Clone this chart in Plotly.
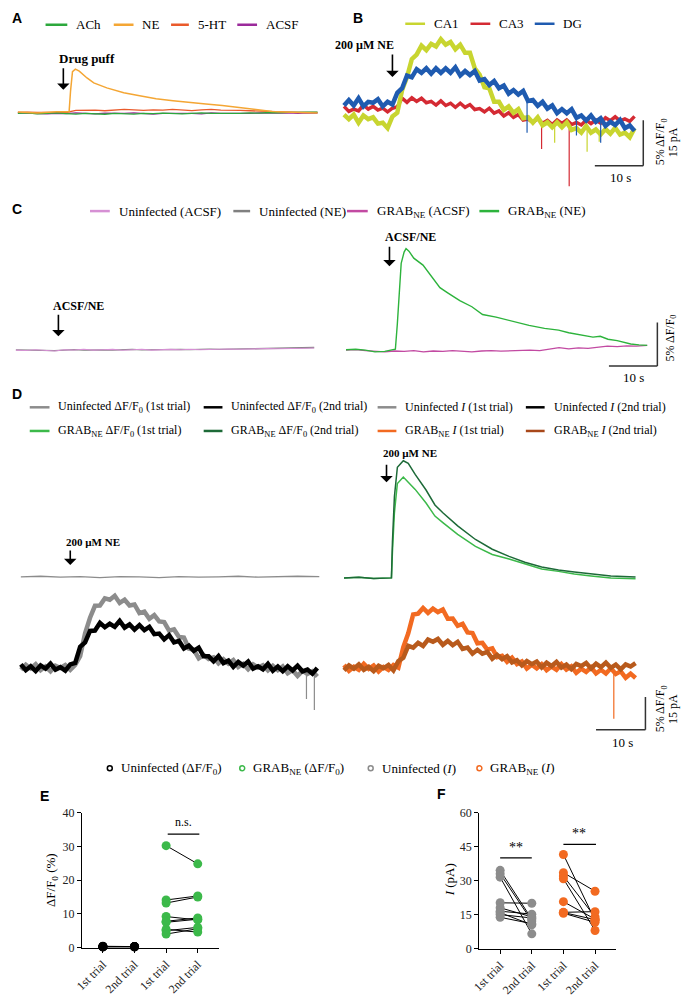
import plotly.graph_objects as go

W, H = 682, 998
SERIF = "Liberation Serif"
SANS = "Liberation Sans"

# ---------------- Panel A (time s, dF/F0 %) ----------------
tA = [0, 2, 4, 6, 8, 10, 12, 14, 16, 18, 20, 22, 24, 26, 28, 30, 32, 34, 36, 38, 40, 42, 44, 46, 48, 50, 52, 54, 56, 58, 60, 62]
A_ACh = [-0.1, -0.05, -0.15, -0.1, -0.05, -0.12, -0.18, -0.1, -0.15, -0.2, -0.1, -0.12, -0.18, -0.1, -0.14, -0.08,
         -0.12, -0.15, -0.1, -0.05, -0.1, -0.12, -0.06, -0.1, -0.05, -0.08, 0.0, -0.05, 0.02, 0.0, 0.05, 0.05]
A_5HT = [0.0, 0.05, 0.0, 0.02, 0.05, 0.0, 0.25, 0.3, 0.28, 0.2, 0.3, 0.35, 0.3, 0.25, 0.3, 0.28,
         0.35, 0.3, 0.22, 0.3, 0.35, 0.28, 0.3, 0.25, 0.2, 0.15, 0.1, 0.05, 0.05, 0.0, 0.02, 0.0]
A_ACSF = [-0.05, -0.1, -0.08, -0.15, -0.1, -0.12, -0.05, -0.1, -0.15, -0.08, -0.12, -0.1, -0.05, -0.12, -0.18, -0.1,
          -0.08, -0.12, -0.1, -0.15, -0.05, -0.1, -0.12, -0.08, -0.1, -0.05, -0.1, -0.08, -0.05, -0.1, -0.05, -0.08]
tA_NE = [0, 4, 8, 10.6, 10.9, 11.3, 11.9, 12.7, 14.3, 15.7, 18.4, 21.9, 25.2, 28.6, 32.1, 35.4, 38.9, 42.3, 46.0,
         49.7, 52.6, 55.0, 57.3, 60, 62]
A_NE = [0.05, -0.05, 0.1, 0.1, 2.5, 4.7, 5.0, 4.77, 3.98, 3.41, 2.84, 2.27, 1.93, 1.59, 1.36, 1.14, 0.97, 0.80, 0.57,
        0.34, 0.11, 0.05, 0.0, 0.02, -0.05]

# ---------------- Panel B (1 s samples, %) ----------------
tB = [0, 1, 2, 3, 4, 5, 6, 7, 8, 9, 10, 11, 12, 13, 14, 15, 16, 17, 18, 19, 20, 21, 22, 23, 24, 25, 26, 27, 28, 29,
      30, 31, 32, 33, 34, 35, 36, 37, 38, 39, 40, 41, 42, 43, 44, 45, 46, 47, 48, 49, 50, 51, 52, 53, 54, 55, 56, 57,
      58, 59, 60]
B_CA1 = [0.1, -0.4, 0.1, -0.8, 0.0, -0.4, -0.2, -0.9, -0.8, -1.4, -0.1, 0.3, 2.8, 4.2, 6.2, 6.7, 7.7, 7.2, 7.9, 7.6,
         8.4, 7.8, 8.1, 7.3, 7.8, 6.9, 6.9, 5.2, 4.5, 3.1, 3.0, 1.5, 1.5, 0.6, 1.0, 0.3, 0.7, -0.3, -0.2, -0.8,
         -0.2, -1.1, -0.75, -1.3, -0.75, -1.3, -0.75, -1.6, -1.4, -1.9, -1.15, -1.9, -1.55, -2.1, -1.5, -2.0, -1.35,
         -2.1, -1.9, -2.4, -1.4]
B_DG = [1.1, 1.7, 1.1, 1.9, 1.0, 1.5, 1.4, 1.8, 1.0, 1.5, 1.2, 2.5, 3.0, 4.4, 4.2, 5.1, 4.7, 5.2, 4.6, 5.2,
        4.7, 5.2, 4.7, 5.3, 4.4, 4.9, 4.45, 4.9, 3.85, 4.0, 3.35, 3.8, 3.0, 3.3, 2.4, 2.8, 2.3, 2.7, 1.6, 1.7,
        1.05, 1.5, 0.75, 1.1, 0.25, 0.7, 0.25, 0.7, -0.25, 0.0, -0.55, 0.0, -0.7, -0.3, -1.15, -0.7, -1.05, -0.5,
        -1.4, -1.1, -1.7]
B_CA3 = [1.0, 0.45, 0.7, 0.5, 1.15, 0.7, 1.0, 0.6, 0.8, 0.4, 0.8, 0.95, 1.9, 1.45, 1.95, 1.55, 1.9, 1.4, 1.55, 1.15,
         1.6, 1.1, 1.35, 0.9, 1.35, 0.9, 1.2, 0.65, 0.75, 0.4, 0.8, 0.25, 0.5, -0.05, 0.3, -0.2, 0.1, -0.5, -0.4,
         -0.75, -0.35, -0.85, -0.55, -1.0, -0.5, -0.88, -0.5, -1.0, -0.78, -1.05, -0.5, -0.9, -0.5, -0.85, -0.25,
         -0.58, -0.15, -0.6, -0.38, -0.65, -0.1]
B_CA1_spk_t = [43.5, 50.2, 52.7]
B_CA1_spk_base = [-1.0, -1.6, -1.7]
B_CA1_spk_tip = [-3.0, -4.0, -2.9]
B_DG_spk_t = [37.8, 48.0, 53.0]
B_DG_spk_base = [2.0, 0.0, -0.6]
B_DG_spk_tip = [-1.9, -2.2, -3.0]
B_CA3_spk_t = [40.8, 46.5]
B_CA3_spk_base = [-0.6, -0.8]
B_CA3_spk_tip = [-3.7, -7.8]

# ---------------- Panel C ----------------
C_left_t = [0, 2, 4, 6, 8, 10, 12, 14, 16, 18, 20, 22, 24, 26, 28, 30, 32, 34, 36, 38, 40, 42, 44, 46, 48, 50, 52, 54,
            56, 58, 60, 61.6]
C_unACSF = [0.0, -0.05, 0.05, 0.0, -0.1, 0.05, 0.02, 0.1, 0.0, 0.05, 0.08, -0.02, 0.05, 0.1, 0.0, 0.05, 0.08, 0.05,
            0.1, 0.05, 0.1, 0.08, 0.12, 0.1, 0.15, 0.12, 0.18, 0.15, 0.2, 0.18, 0.22, 0.25]
C_unNE = [0.02, 0.0, -0.05, -0.02, -0.05, 0.0, 0.05, 0.0, 0.05, 0.02, 0.0, 0.05, 0.08, 0.02, 0.05, 0.1, 0.05, 0.08,
          0.05, 0.1, 0.12, 0.08, 0.1, 0.15, 0.12, 0.18, 0.15, 0.2, 0.18, 0.22, 0.25, 0.3]
C_grNE_t = [0, 2, 4, 6, 8, 9.8, 10.2, 10.6, 11.0, 11.4, 12, 12.4, 13, 14, 15.9, 17, 19.4, 21, 23.5, 26, 28.2, 31,
            33.7, 37.8, 41, 43.9, 46, 48.6, 51, 52.5, 54.1, 56, 58.8, 60.5, 62.2]
C_grNE = [0.05, 0.1, 0.0, -0.2, -0.15, 0.0, 0.1, 3.0, 6.5, 10.0, 11.3, 11.7, 11.4, 10.6, 9.8, 9.0, 7.2, 6.6, 5.7, 5.0,
          4.1, 3.8, 3.4, 2.85, 2.5, 2.3, 2.0, 1.7, 1.5, 1.6, 1.25, 1.1, 0.7, 0.6, 0.55]
C_grACSF_t = [0, 2, 4, 6, 8, 10, 12, 14, 16, 18, 20, 22, 24, 26, 28, 30, 32, 34, 36, 38, 40, 42, 44, 46, 48, 50, 52,
              54, 56, 58, 60, 62.2]
C_grACSF = [0.0, 0.05, -0.05, -0.15, -0.2, -0.1, -0.15, -0.05, -0.2, -0.1, -0.15, -0.05, -0.1, -0.2, -0.1, -0.05,
            -0.12, -0.08, -0.1, 0.0, -0.05, 0.1, 0.28, 0.15, 0.25, 0.2, 0.35, 0.45, 0.4, 0.5, 0.45, 0.55]

# ---------------- Panel D ----------------
D_unF_t = [0, 4, 8, 12, 16, 20, 24, 28, 32, 36, 40, 44, 48, 52, 56, 60.4]
D_unF1 = [0.0, 0.1, -0.05, 0.05, -0.1, 0.05, 0.0, -0.1, 0.05, -0.05, 0.0, 0.1, -0.05, 0.05, 0.1, 0.05]
D_grF_t = [0, 3, 6, 9, 9.6, 9.8, 10.2, 10.8, 12, 13, 14.4, 16.6, 18.4, 20, 23, 26.6, 30, 33.4, 36.6, 40, 43.4, 46.6,
           50, 54, 59]
D_grF1 = [0.0, 0.1, -0.1, 0.0, 0.0, 4.0, 10.0, 14.5, 15.5, 14.7, 13.6, 11.5, 9.5, 8.5, 6.7, 4.85, 3.6, 2.9, 2.1,
          1.36, 1.0, 0.6, 0.3, 0.0, -0.15]
D_grF2 = [0.0, 0.1, -0.1, 0.0, 0.0, 5.5, 12.5, 17.0, 18.0, 17.6, 15.9, 13.5, 11.2, 10.0, 8.0, 5.9, 4.4, 3.3, 2.4,
          1.67, 1.2, 0.9, 0.6, 0.3, 0.15]
tD = [0, 1, 2, 3, 4, 5, 6, 7, 8, 9, 10, 11, 12, 13, 14, 15, 16, 17, 18, 19, 20, 21, 22, 23, 24, 25, 26, 27, 28, 29,
      30, 31, 32, 33, 34, 35, 36, 37, 38, 39, 40, 41, 42, 43, 44, 45, 46, 47, 48, 49, 50, 51, 52, 53, 54, 55, 56, 57,
      58, 59, 60]
D_unI2 = [1.5, -1.2, 0.6, -1.6, 1.0, -0.5, 1.8, -1.0, 0.2, -1.4, 1.5, 2.2, 9.6, 11.6, 16.9, 17.1, 20.6, 18.6, 20.2,
          18.8, 21.5, 18.4, 19.9, 17.5, 19.6, 17.3, 18.8, 15.4, 15.7, 13.0, 15.0, 11.6, 12.3, 8.8, 10.1, 7.7, 9.2,
          5.2, 5.2, 2.9, 5.3, 2.1, 3.2, 0.3, 2.6, 0.9, 2.8, -0.5, 0.6, -0.8, 1.7, -1.4, 0.5, -1.6, 0.6, -1.3, 0.9,
          -1.7, -0.9, -2.8, -0.2]
D_unI1 = [-1.0, 1.3, -0.4, 1.6, -1.2, 0.5, -1.7, 0.9, -0.2, 1.2, -1.0, 1.3, 5.3, 15.8, 23.0, 28.5, 28.6, 31.9, 31.3,
          33.1, 29.8, 31.3, 28.6, 29.1, 25.1, 25.8, 22.5, 24.2, 21.3, 21.0, 17.0, 17.6, 14.1, 13.8, 8.8, 8.2, 4.3,
          5.8, 4.0, 4.7, 2.0, 3.9, 1.8, 3.4, 0.3, 1.7, -0.8, 1.5, 0.0, 1.1, -1.3, 0.8, -1.2, 0.5, -2.6, -1.2, -3.8,
          -1.5, -2.9, -1.7, -4.1]
D_unI1_spk_t = [57.8, 59.4]
D_unI1_spk_base = [-2.6, -3.0]
D_unI1_spk_tip = [-14.5, -19.5]
tD_gr = tD[:60]
D_grI1 = [1.2, -1.5, 0.4, -1.0, 1.7, -0.6, 1.0, -1.8, 0.3, -1.1, 1.2, 0.0, 9.4, 15.8, 24.5, 24.9, 27.5, 25.2, 27.2,
          25.6, 26.8, 22.5, 22.6, 19.3, 20.2, 16.2, 15.9, 11.2, 11.4, 8.3, 8.9, 4.8, 5.4, 2.7, 4.6, 1.6, 2.8, -0.4,
          1.3, -0.4, 1.6, -1.2, 0.5, -1.0, 1.6, -0.9, 0.6, -2.4, -0.5, -2.0, 0.1, -2.7, -1.0, -2.7, -0.3, -2.9,
          -1.7, -4.7, -2.8, -4.8]
D_grI1_spk_t = [54.6]
D_grI1_spk_base = [-1.5]
D_grI1_spk_tip = [-23.6]
D_grI2 = [-1.3, 1.0, -0.5, 1.5, -1.0, 0.4, -1.6, 0.8, -0.3, 1.2, -1.3, 3.0, 4.5, 10.0, 9.2, 11.4, 10.0, 12.9, 11.9,
          13.2, 10.5, 12.3, 10.3, 11.9, 8.6, 9.2, 6.4, 8.2, 6.4, 7.2, 4.1, 5.9, 3.9, 5.3, 2.4, 3.4, 1.0, 3.0, 1.6,
          2.8, 0.1, 2.3, 0.7, 2.6, 0.0, 1.4, -0.7, 1.7, 0.7, 2.2, -0.4, 1.8, 0.2, 2.3, -0.1, 1.4, -0.8, 1.5, 0.5,
          2.1]

# ---------------- Panels E / F ----------------
trial_labels = ["1st trial", "2nd trial", "1st trial", "2nd trial"]
E_un_1 = [0.4, 0.3, 0.3, 0.2, 0.3, 0.2]
E_un_2 = [0.3, 0.2, 0.3, 0.3, 0.2, 0.3]
E_gr_1 = [30.2, 14.1, 13.2, 9.2, 7.8, 7.5, 5.4, 5.0, 4.0]
E_gr_2 = [24.8, 15.3, 15.0, 8.2, 8.8, 8.4, 4.6, 6.0, 5.6]
F_un_1 = [34.5, 33.0, 31.5, 20.2, 18.0, 16.5, 15.8, 15.0, 13.8]
F_un_2 = [13.0, 12.2, 6.5, 20.0, 14.0, 15.2, 10.5, 13.5, 11.0]
F_gr_1 = [41.5, 33.5, 32.0, 30.8, 20.7, 16.0, 15.6, 15.9]
F_gr_2 = [12.5, 25.3, 14.0, 8.0, 13.0, 16.3, 11.6, 12.8]

# ---------------- colours ----------------
C_ACH, C_NE, C_5HT, C_ACSF = "#2ca83c", "#f4a634", "#ea5a2b", "#9b2a9b"
C_CA1, C_CA3, C_DG = "#c8d530", "#d42a33", "#1f5bb0"
C_PINK, C_GRAY, C_MAG, C_GREEN = "#d690d4", "#808080", "#c24aa2", "#2db33c"
C_LG, C_DKG, C_OR, C_BR = "#3cb94a", "#1d6a38", "#f26a21", "#b85a1c"
C_UNG = "#8c8c8c"

fig = go.Figure()
layout = {}
shapes = []
ann = []


def ax_name(n):
    return ("x", "y") if n == 1 else (f"x{n}", f"y{n}")


def add_axes(n, left, right, top, bottom, x0, pps, y0, ppu):
    xk = "xaxis" if n == 1 else f"xaxis{n}"
    yk = "yaxis" if n == 1 else f"yaxis{n}"
    xa, ya = ax_name(n)
    layout[xk] = dict(domain=[left / W, right / W], range=[(left - x0) / pps, (right - x0) / pps],
                      visible=False, anchor=ya, fixedrange=True)
    layout[yk] = dict(domain=[1 - bottom / H, 1 - top / H], range=[(y0 - bottom) / ppu, (y0 - top) / ppu],
                      visible=False, anchor=xa, fixedrange=True)


def line(n, t, v, color, width):
    xa, ya = ax_name(n)
    fig.add_trace(go.Scatter(x=t, y=v, mode="lines", line=dict(color=color, width=width),
                             xaxis=xa, yaxis=ya, showlegend=False, hoverinfo="skip"))


def spikes(n, t, base, tip, color, width=1.2):
    xs, ys = [], []
    for a, b, c in zip(t, base, tip):
        xs += [a, a, None]
        ys += [b, c, None]
    line(n, xs, ys, color, width)


def text(x, y, s, size=12, bold=False, family=SERIF, xanchor="center", yanchor="middle", angle=0):
    ann.append(dict(x=x / W, y=1 - y / H, xref="paper", yref="paper", text=f"<b>{s}</b>" if bold else s,
                    showarrow=False, font=dict(family=family, size=size, color="black"),
                    xanchor=xanchor, yanchor=yanchor, textangle=angle))


def arrow(x, ytail, ytip):
    ann.append(dict(x=x / W, y=1 - ytip / H, xref="paper", yref="paper", ax=0, ay=ytail - ytip, text="",
                    showarrow=True, arrowhead=1, arrowsize=1.3, arrowwidth=1.6, arrowcolor="black"))


def leg_line(x1, x2, y, color, label, size=13, gap=7, width=2.5):
    shapes.append(dict(type="line", xref="paper", yref="paper", x0=x1 / W, x1=x2 / W, y0=1 - y / H, y1=1 - y / H,
                       line=dict(color=color, width=width)))
    text(x2 + gap, y, label, size, xanchor="left")


def leg_circle(x, y, color, label, size=13):
    shapes.append(dict(type="circle", xref="paper", yref="paper", x0=(x - 2.5) / W, x1=(x + 2.5) / W,
                       y0=1 - (y + 2.5) / H, y1=1 - (y - 2.5) / H, line=dict(color=color, width=1.5)))
    text(x + 9, y, label, size, xanchor="left")


def scalebar(n, xl, xr, yb, yt):
    xa, ya = ax_name(n)
    shapes.append(dict(type="line", xref=xa, yref=ya, x0=xl, x1=xr, y0=yb, y1=yb, line=dict(color="#333", width=1.5)))
    shapes.append(dict(type="line", xref=xa, yref=ya, x0=xr, x1=xr, y0=yb, y1=yt, line=dict(color="#333", width=1.5)))


# ---- axes for traces ----
add_axes(1, 5, 320, 40, 120, 10, 4.89, 107, 8.8)       # A
add_axes(2, 335, 650, 25, 190, 340, 4.9, 110, 9.2)     # B
add_axes(3, 5, 330, 225, 370, 8, 4.9, 348, 8.8)        # C left
add_axes(4, 335, 665, 225, 370, 342, 4.9, 348, 8.8)    # C right
add_axes(5, 5, 330, 440, 600, 13, 5.0, 578, 6.6)       # D left dF/F0
add_axes(6, 5, 330, 580, 725, 13, 5.0, 670, 2.2)       # D left current
add_axes(7, 335, 660, 440, 600, 340, 5.0, 579, 6.6)    # D right dF/F0
add_axes(8, 335, 660, 580, 740, 340, 5.0, 670, 2.2)    # D right current

# ---- A ----
line(1, tA, A_5HT, C_5HT, 1.3)
line(1, tA, A_ACSF, C_ACSF, 1.3)
line(1, tA, A_ACh, C_ACH, 1.3)
line(1, tA_NE, A_NE, C_NE, 1.5)

# ---- B ----
line(2, tB, B_CA3, C_CA3, 3.5)
spikes(2, B_CA3_spk_t, B_CA3_spk_base, B_CA3_spk_tip, C_CA3)
line(2, tB, B_CA1, C_CA1, 4.5)
spikes(2, B_CA1_spk_t, B_CA1_spk_base, B_CA1_spk_tip, C_CA1)
line(2, tB, B_DG, C_DG, 4.5)
spikes(2, B_DG_spk_t, B_DG_spk_base, B_DG_spk_tip, C_DG)
scalebar(2, 51.8, 61.8, -5.54, -0.54)

# ---- C ----
line(3, C_left_t, C_unNE, C_GRAY, 1.3)
line(3, C_left_t, C_unACSF, C_PINK, 1.1)
line(4, C_grACSF_t, C_grACSF, C_MAG, 1.3)
line(4, C_grNE_t, C_grNE, C_GREEN, 1.4)
scalebar(4, 54.3, 64.3, -1.82, 3.18)

# ---- D ----
line(5, D_unF_t, D_unF1, C_UNG, 1.3)
line(6, tD, D_unI1, C_UNG, 4.5)
spikes(6, D_unI1_spk_t, D_unI1_spk_base, D_unI1_spk_tip, C_UNG)
line(6, tD, D_unI2, "#000000", 4.5)
line(7, D_grF_t, D_grF1, C_LG, 1.5)
line(7, D_grF_t, D_grF2, C_DKG, 1.5)
line(8, tD_gr, D_grI1, C_OR, 4.5)
spikes(8, D_grI1_spk_t, D_grI1_spk_base, D_grI1_spk_tip, C_OR)
line(8, tD_gr, D_grI2, C_BR, 4.5)
scalebar(8, 51, 61, -28.6, -13.6)


# ---- E / F ----
def pairs(x1, x2, v1, v2):
    xs, ys = [], []
    for a, b in zip(v1, v2):
        xs += [x1, x2, None]
        ys += [a, b, None]
    return xs, ys


for n, groups, color_list in [
    (9, [(1, 2, E_un_1, E_un_2), (3, 4, E_gr_1, E_gr_2)], ["#000000", C_LG]),
    (10, [(1, 2, F_un_1, F_un_2), (3, 4, F_gr_1, F_gr_2)], [C_UNG, C_OR]),
]:
    xa, ya = ax_name(n)
    for (p1, p2, v1, v2), col in zip(groups, color_list):
        xs, ys = pairs(p1, p2, v1, v2)
        fig.add_trace(go.Scatter(x=xs, y=ys, mode="lines", line=dict(color="black", width=1),
                                 xaxis=xa, yaxis=ya, showlegend=False, hoverinfo="skip"))
        fig.add_trace(go.Scatter(x=[p1] * len(v1) + [p2] * len(v2), y=v1 + v2, mode="markers",
                                 marker=dict(color=col, size=9), cliponaxis=False,
                                 xaxis=xa, yaxis=ya, showlegend=False, hoverinfo="skip"))

axis_common = dict(showline=True, linecolor="black", linewidth=1.3, ticks="outside", ticklen=4, tickwidth=1.2,
                   tickcolor="black", showgrid=False, zeroline=False, fixedrange=True,
                   tickfont=dict(family=SERIF, size=12, color="#222"))
layout["xaxis9"] = dict(domain=[75 / W, 213 / W], range=[0.344, 4.656], anchor="y9", tickvals=[1, 2, 3, 4],
                        ticktext=trial_labels, tickangle=-45, **axis_common)
layout["yaxis9"] = dict(domain=[1 - 954 / H, 1 - 817 / H], range=[0, 40], anchor="x9",
                        tickvals=[0, 10, 20, 30, 40], **axis_common)
layout["xaxis10"] = dict(domain=[477 / W, 615 / W], range=[0.344, 4.656], anchor="y10", tickvals=[1, 2, 3, 4],
                         ticktext=trial_labels, tickangle=-45, **axis_common)
layout["yaxis10"] = dict(domain=[1 - 955 / H, 1 - 817 / H], range=[0, 60], anchor="x10",
                         tickvals=[0, 15, 30, 45, 60], **axis_common)

# significance bars
shapes.append(dict(type="line", xref="x9", yref="y9", x0=3.05, x1=4.05, y0=33.6, y1=33.6,
                   line=dict(color="black", width=1.3)))
ann.append(dict(x=3.55, y=34.5, xref="x9", yref="y9", text="n.s.", showarrow=False, yanchor="bottom",
                font=dict(family=SERIF, size=12, color="black")))
shapes.append(dict(type="line", xref="x10", yref="y10", x0=1.0, x1=2.0, y0=40, y1=40,
                   line=dict(color="black", width=1.3)))
ann.append(dict(x=1.5, y=40.5, xref="x10", yref="y10", text="**", showarrow=False, yanchor="bottom",
                font=dict(family=SERIF, size=14, color="black")))
shapes.append(dict(type="line", xref="x10", yref="y10", x0=3.0, x1=4.03, y0=46, y1=46,
                   line=dict(color="black", width=1.3)))
ann.append(dict(x=3.5, y=46.5, xref="x10", yref="y10", text="**", showarrow=False, yanchor="bottom",
                font=dict(family=SERIF, size=14, color="black")))

# ---------------- texts ----------------
for lab, x, y in [("A", 2, 11), ("B", 347, 11), ("C", 2, 205), ("D", 2, 392), ("E", 30, 800), ("F", 432, 798)]:
    text(x, y, lab, 14, bold=True, family=SANS, xanchor="left")

# A legend
leg_line(38, 60, 18, C_ACH, "ACh")
leg_line(107, 127, 18, C_NE, "NE")
leg_line(165, 183, 18, C_5HT, "5-HT")
leg_line(232, 252, 18, C_ACSF, "ACSF")
# B legend
leg_line(402, 422, 17, C_CA1, "CA1")
leg_line(468, 488, 17, C_CA3, "CA3")
leg_line(533, 553, 17, C_DG, "DG")
# C legend
leg_line(83, 103, 207, C_PINK, "Uninfected (ACSF)", size=13)
leg_line(228, 245, 207, C_GRAY, "Uninfected (NE)", size=13)
leg_line(343, 364, 207, C_MAG, "GRAB<sub>NE</sub> (ACSF)", size=13)
leg_line(477, 497, 207, C_GREEN, "GRAB<sub>NE</sub> (NE)", size=13)
# D legend
d_cols = [(22, 42), (198, 217), (374, 393), (524, 543)]
row1 = [(C_UNG, "Uninfected ΔF/F<sub>0</sub> (1st trial)"), ("#000000", "Uninfected ΔF/F<sub>0</sub> (2nd trial)"),
        (C_UNG, "Uninfected <i>I</i> (1st trial)"), ("#000000", "Uninfected <i>I</i> (2nd trial)")]
row2 = [(C_LG, "GRAB<sub>NE</sub> ΔF/F<sub>0</sub> (1st trial)"), (C_DKG, "GRAB<sub>NE</sub> ΔF/F<sub>0</sub> (2nd trial)"),
        (C_OR, "GRAB<sub>NE</sub> <i>I</i> (1st trial)"), ("#a8481a", "GRAB<sub>NE</sub> <i>I</i> (2nd trial)")]
for (x1, x2), (c, lab) in zip(d_cols, row1):
    leg_line(x1, x2, 406, c, lab, size=12)
for (x1, x2), (c, lab) in zip(d_cols, row2):
    leg_line(x1, x2, 430, c, lab, size=12)
# bottom legend
leg_circle(103, 772, "#000000", "Uninfected (ΔF/F<sub>0</sub>)")
leg_circle(237, 772, C_LG, "GRAB<sub>NE</sub> (ΔF/F<sub>0</sub>)")
leg_circle(367, 772, C_UNG, "Uninfected (<i>I</i>)")
leg_circle(477, 772, C_OR, "GRAB<sub>NE</sub> (<i>I</i>)")

# drug application labels + arrows
text(50, 52, "Drug puff", 13, bold=True, xanchor="left")
arrow(56, 61, 84)
text(393, 39, "200 µM NE", 12, bold=True, xanchor="right")
arrow(389, 47, 71)
text(44, 303, "ACSF/NE", 12, bold=True, xanchor="left")
arrow(51, 311, 334)
text(379, 233, "ACSF/NE", 12, bold=True, xanchor="left")
arrow(386, 242, 263)
text(57, 543, "200 µM NE", 11, bold=True, xanchor="left")
arrow(63, 550, 566)
text(377, 452, "200 µM NE", 11, bold=True, xanchor="left")
arrow(383, 463, 482)

# scale bar labels
text(620, 173, "10 s", 13)
text(661, 137, "5% ΔF/F<sub>0</sub>", 12, angle=-90)
text(673, 137, "15 pA", 12, angle=-90)
text(633, 376, "10 s", 13)
text(671, 336, "5% ΔF/F<sub>0</sub>", 12, angle=-90)
text(622, 746, "10 s", 13)
text(661, 712, "5% ΔF/F<sub>0</sub>", 12, angle=-90)
text(673, 712, "15 pA", 12, angle=-90)

# E / F y titles
text(44, 885, "ΔF/F<sub>0</sub> (%)", 13, angle=-90)
text(447, 885, "<i>I</i> (pA)", 13, angle=-90)

fig.update_layout(width=W, height=H, margin=dict(l=0, r=0, t=0, b=0), paper_bgcolor="white",
                  plot_bgcolor="rgba(0,0,0,0)", showlegend=False, shapes=shapes, annotations=ann,
                  font=dict(family=SERIF, color="black"), **layout)
fig.write_html("out.html", config={"displayModeBar": False},
               post_script="document.body.style.margin='0';document.body.style.overflow='hidden';")
